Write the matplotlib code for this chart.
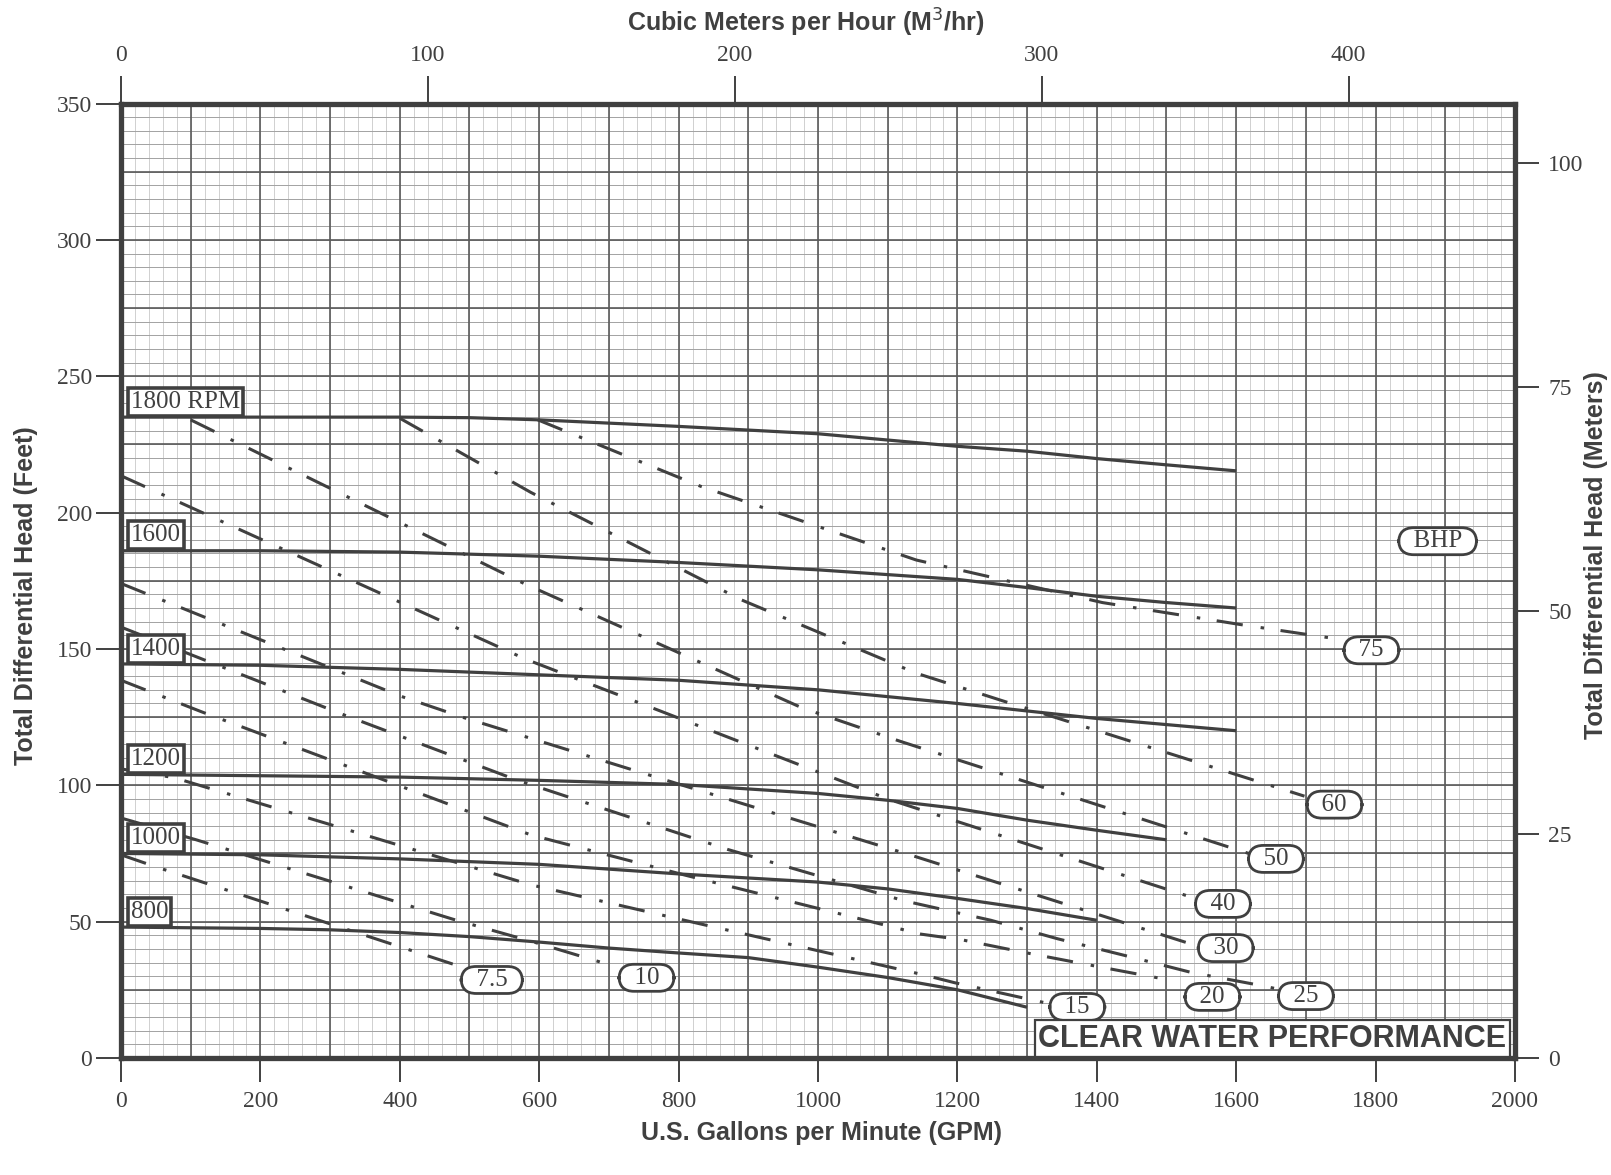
import numpy as np
import matplotlib.pyplot as plt

plt.rcParams['font.family'] = ['Liberation Serif', 'DejaVu Serif']
plt.rcParams['lines.scale_dashes'] = False

# pump head curves (GPM, feet)
rpm_names = ['1800 RPM', '1600', '1400', '1200', '1000', '800']
q_1800 = [0, 200, 400, 500, 600, 800, 1000, 1200, 1300, 1400, 1500, 1600]
h_1800 = [235, 235, 235, 234.8, 234, 231.6, 228.9, 224.3, 222.5, 219.8, 217.5, 215.3]
q_1600 = [0, 200, 400, 600, 800, 1000, 1200, 1300, 1400, 1500, 1600]
h_1600 = [186, 186, 185.5, 184, 181.7, 179, 175.5, 172.5, 169.3, 167, 165]
q_1400 = [0, 200, 400, 600, 800, 1000, 1200, 1400, 1600]
h_1400 = [144.5, 144, 142.5, 140.5, 138.5, 135, 130, 124.5, 120]
q_1200 = [0, 200, 400, 600, 800, 1000, 1100, 1200, 1300, 1400, 1500]
h_1200 = [104, 103.5, 103, 101.8, 100.3, 97, 94.5, 91.5, 87.2, 83.5, 80]
q_1000 = [0, 200, 400, 600, 800, 1000, 1100, 1200, 1300, 1400]
h_1000 = [75, 74.5, 73, 71, 67.5, 64.5, 62, 58.5, 54.8, 50.5]
q_800 = [0, 200, 300, 400, 500, 600, 700, 800, 900, 1000, 1100, 1200, 1300]
h_800 = [48, 47.5, 47, 46, 44.5, 42.5, 40.3, 38.5, 36.8, 33.3, 29.5, 25, 18.6]

rpm_q = [q_1800, q_1600, q_1400, q_1200, q_1000, q_800]
rpm_h = [h_1800, h_1600, h_1400, h_1200, h_1000, h_800]

# brake horsepower lines (GPM, feet)
bhp_names = ['7.5', '10', '15', '20', '25', '30', '40', '50', '60', '75']
q_bhp75 = [598, 832, 1141, 1408, 1607, 1736]
h_bhp75 = [234, 209.6, 182.6, 167, 158.9, 154]
q_bhp60 = [400, 588, 890, 1141, 1267, 1365, 1698]
h_bhp60 = [234.6, 207.4, 168, 141.1, 130.8, 122.9, 96]
q_bhp50 = [100, 579, 977, 1117, 1399, 1618]
h_bhp50 = [234, 173.9, 128.4, 116.2, 93, 75]
q_bhp40 = [0, 581, 763, 1102, 1540]
h_bhp40 = [213.5, 146.2, 128.3, 94.8, 58.6]
q_bhp30 = [0, 402, 492, 770, 1138, 1545]
h_bhp30 = [174, 132.6, 124.8, 102.8, 74, 41]
q_bhp25 = [0, 320, 567, 870, 1124, 1248, 1344, 1440, 1535, 1633, 1663]
h_bhp25 = [158, 125.8, 102, 76.5, 57.6, 50.5, 43.7, 37.6, 31.4, 26.7, 25.1]
q_bhp20 = [0, 115, 588, 810, 1148, 1205, 1306, 1406, 1504]
h_bhp20 = [138.5, 127, 81.8, 67, 45.4, 43.4, 38.2, 33.3, 28.6]
q_bhp15 = [0, 76, 588, 810, 1148, 1196, 1291, 1325]
h_bhp15 = [106, 102.8, 63.5, 50.4, 30.7, 27.6, 22.2, 20.3]
q_bhp10 = [0, 108, 476, 591, 690]
h_bhp10 = [88, 80, 50.9, 42.6, 35]
q_bhp7 = [0, 50, 492]
h_bhp7 = [74.5, 70.1, 33.1]

bhp_q = [q_bhp7, q_bhp10, q_bhp15, q_bhp20, q_bhp25, q_bhp30, q_bhp40, q_bhp50, q_bhp60, q_bhp75]
bhp_h = [h_bhp7, h_bhp10, h_bhp15, h_bhp20, h_bhp25, h_bhp30, h_bhp40, h_bhp50, h_bhp60, h_bhp75]

# label tags for the bhp lines
bhp_tag_q = [532, 754, 1372, 1566, 1700, 1585, 1581, 1657, 1741, 1794]
bhp_tag_h = [28.6, 29.4, 18.7, 22.4, 22.7, 40.3, 56.5, 73, 92.9, 149.5]

gpm_ticks = [0, 200, 400, 600, 800, 1000, 1200, 1400, 1600, 1800, 2000]
feet_ticks = [0, 50, 100, 150, 200, 250, 300, 350]
m3h_ticks = [0, 100, 200, 300, 400]
meter_ticks = [0, 25, 50, 75, 100]

GPM_PER_M3H = 4.403
FT_PER_M = 3.281

INK = '#404040'
GRID = '#5a5a5a'

fig = plt.figure(figsize=(16.11, 11.75), dpi=100)
ax = fig.add_axes([0.0751, 0.0996, 0.8653, 0.8123])
ax.set_xlim(0, 2000)
ax.set_ylim(0, 350)

# graph paper
ax.vlines(np.arange(0, 2001, 20), 0, 350, color='#c4c4c4', lw=0.55, zorder=0)
ax.hlines(np.arange(0, 351, 5), 0, 2000, color='#a2a2a2', lw=0.7, zorder=0)
ax.vlines(np.arange(0, 2001, 100), 0, 350, color=GRID, lw=1.2, zorder=1)
ax.hlines(np.arange(0, 351, 25), 0, 2000, color=GRID, lw=1.2, zorder=1)

for q, h in zip(rpm_q, rpm_h):
    ax.plot(q, h, color=INK, lw=2.3, solid_capstyle='butt', zorder=3)

for q, h in zip(bhp_q, bhp_h):
    ax.plot(q, h, color=INK, lw=2.2, linestyle=(0, (19, 13, 2.5, 12)),
            dash_capstyle='butt', zorder=3)

for name, h in zip(rpm_names, rpm_h):
    ax.text(14, h[0] + 1.6, name, fontsize=18, color=INK, ha='left', va='bottom',
            zorder=5,
            bbox=dict(boxstyle='square,pad=0.12', fc='white', ec=INK, lw=2.6))

for name, q, h in zip(bhp_names, bhp_tag_q, bhp_tag_h):
    ax.text(q, h, '  ' + name + '  ', fontsize=18, color=INK, ha='center',
            va='center', zorder=5,
            bbox=dict(boxstyle='round,pad=0.1,rounding_size=0.6', fc='white',
                      ec=INK, lw=2.0))

ax.text(1889, 189.5, '  BHP  ', fontsize=18, color=INK, ha='center', va='center',
        zorder=5,
        bbox=dict(boxstyle='round,pad=0.1,rounding_size=0.6', fc='white',
                  ec=INK, lw=2.0))

ax.text(1988, 1.5, 'CLEAR WATER PERFORMANCE', family=['Liberation Sans', 'DejaVu Sans'],
        fontweight='bold', fontsize=22, color=INK, ha='right', va='bottom', zorder=6,
        bbox=dict(boxstyle='square,pad=0.12', fc='white', ec=INK, lw=1.6))

for s in ax.spines.values():
    s.set_linewidth(3.8)
    s.set_color(INK)
    s.set_zorder(7)

ax.set_xticks(gpm_ticks)
ax.set_yticks(feet_ticks)
ax.tick_params(axis='x', direction='out', length=17, width=1.4, pad=7,
               labelsize=17, colors=INK)
ax.tick_params(axis='y', direction='out', length=18, width=1.4, pad=3,
               labelsize=17, colors=INK)

secx = ax.secondary_xaxis('top', functions=(lambda q: q / GPM_PER_M3H,
                                             lambda m: m * GPM_PER_M3H))
secx.set_xticks(m3h_ticks)
secx.tick_params(direction='out', length=20, width=1.4, pad=7, labelsize=17,
                 colors=INK)
secy = ax.secondary_yaxis('right', functions=(lambda f: f / FT_PER_M,
                                               lambda m: m * FT_PER_M))
secy.set_yticks(meter_ticks)
secy.tick_params(direction='out', length=17, width=1.4, pad=7, labelsize=17,
                 colors=INK)
for sec in (secx, secy):
    for s in sec.spines.values():
        s.set_visible(False)

sans = ['Liberation Sans', 'DejaVu Sans']
fig.text(0.5003, 0.9804, 'Cubic Meters per Hour (M$^3$/hr)', family=sans,
         fontweight='bold', fontsize=18, color=INK, ha='center', va='center')
fig.text(0.5102, 0.0360, 'U.S. Gallons per Minute (GPM)', family=sans,
         fontweight='bold', fontsize=18, color=INK, ha='center', va='center')
fig.text(0.0161, 0.4928, 'Total Differential Head (Feet)', family=sans,
         fontweight='bold', fontsize=18, color=INK, ha='center', va='center',
         rotation=90)
fig.text(0.9907, 0.5277, 'Total Differential Head (Meters)', family=sans,
         fontweight='bold', fontsize=18, color=INK, ha='center', va='center',
         rotation=90)

fig.savefig('out.png', dpi=100)
